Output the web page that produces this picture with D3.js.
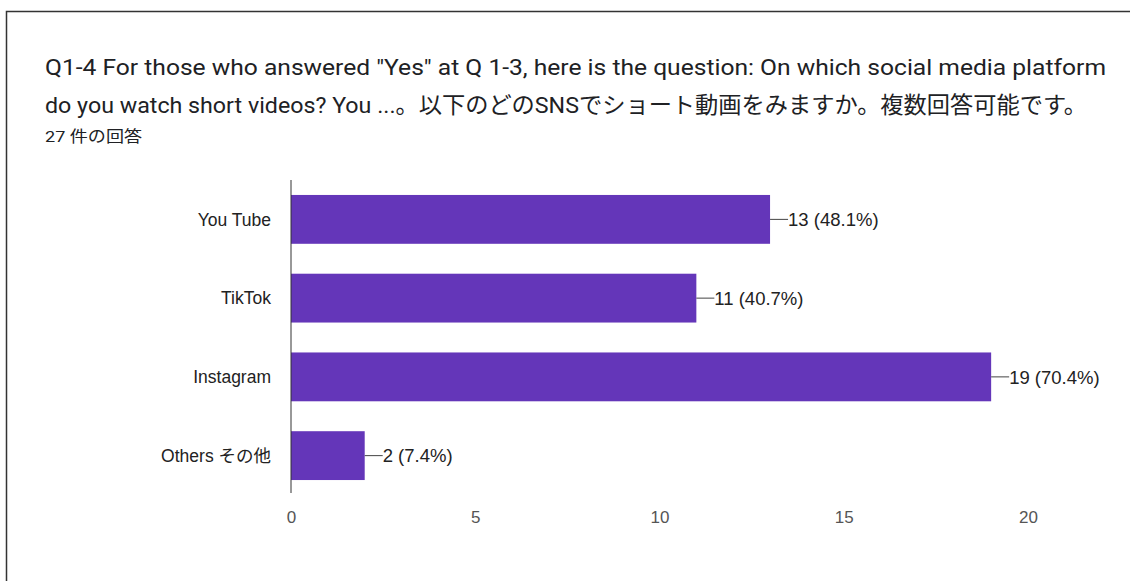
<!DOCTYPE html>
<html lang="ja">
<head>
<meta charset="UTF-8">
<title>Q1-4 short videos</title>
<style>
  html, body { margin: 0; padding: 0; background: #fff; }
  body { width: 1130px; height: 581px; overflow: hidden; }
  .title { font-family: Roboto, "Noto Sans CJK JP", sans-serif; }
  .chart text { font-family: "Liberation Sans", Arial, "Noto Sans CJK JP", sans-serif; }
</style>
</head>
<body>
<svg id="svg" width="1130" height="581"></svg>
<script src="https://d3js.org/d3.v7.min.js"></script>
<script>
const titleLines = [
  'Q1-4 For those who answered "Yes" at Q 1-3, here is the question: On which social media platform',
  'do you watch short videos?  You ...。以下のどのSNSでショート動画をみますか。複数回答可能です。'
];
const titleWidths = [1061, 1042];
const subtitle = '27 件の回答';
const categories = ['You Tube', 'TikTok', 'Instagram', 'Others その他'];
const counts = [13, 11, 19, 2];
const percents = ['48.1%', '40.7%', '70.4%', '7.4%'];
const xTicks = [0, 5, 10, 15, 20];

const data = categories.map((c, i) => ({ name: c, value: counts[i], pct: percents[i] }));

const svg = d3.select('#svg');

// card frame (only top and left edge show)
svg.append('path')
  .attr('d', 'M6.5,581 V11.5 H1130')
  .attr('fill', 'none')
  .attr('stroke', '#333')
  .attr('stroke-width', 1.5);

// title
svg.append('g')
  .attr('class', 'title')
  .selectAll('text')
  .data(titleLines)
  .join('text')
  .attr('x', 45)
  .attr('y', (d, i) => 75 + i * 38)
  .attr('font-size', 22.5)
  .attr('textLength', (d, i) => titleWidths[i])
  .attr('lengthAdjust', 'spacingAndGlyphs')
  .attr('fill', '#202124')
  .text(d => d);

svg.append('text')
  .attr('class', 'title')
  .attr('x', 45)
  .attr('y', 142)
  .attr('font-size', 15.5)
  .attr('textLength', 97)
  .attr('lengthAdjust', 'spacingAndGlyphs')
  .attr('fill', '#202124')
  .text(subtitle);

const chart = svg.append('g').attr('class', 'chart');

// scales
const x = d3.scaleLinear().domain([0, 20]).range([291, 1028]);
const y = d3.scaleBand().domain(categories).range([180, 495]).paddingInner(0.38).paddingOuter(0.19);

// bars
chart.append('g')
  .selectAll('rect')
  .data(data)
  .join('rect')
  .attr('x', x(0))
  .attr('y', d => y(d.name))
  .attr('width', d => x(d.value) - x(0))
  .attr('height', y.bandwidth())
  .attr('fill', '#6436b9');

// vertical baseline
chart.append('line')
  .attr('x1', x(0)).attr('x2', x(0))
  .attr('y1', 180).attr('y2', 493)
  .attr('stroke', '#333')
  .attr('stroke-width', 1);

// category labels
chart.append('g')
  .selectAll('text')
  .data(data)
  .join('text')
  .attr('x', 271)
  .attr('y', d => y(d.name) + y.bandwidth() / 2)
  .attr('dy', '0.36em')
  .attr('text-anchor', 'end')
  .attr('font-size', 17.5)
  .attr('fill', '#222')
  .text(d => d.name);

// value labels with leader lines
const lab = chart.append('g').selectAll('g').data(data).join('g');
lab.append('line')
  .attr('x1', d => x(d.value))
  .attr('x2', d => x(d.value) + 18)
  .attr('y1', d => y(d.name) + y.bandwidth() / 2)
  .attr('y2', d => y(d.name) + y.bandwidth() / 2)
  .attr('stroke', '#444')
  .attr('stroke-width', 1);
lab.append('text')
  .attr('x', d => x(d.value) + 18)
  .attr('y', d => y(d.name) + y.bandwidth() / 2)
  .attr('dy', '0.36em')
  .attr('font-size', 18.5)
  .attr('fill', '#222')
  .text(d => `${d.value} (${d.pct})`);

// x axis tick labels
const xAxis = d3.axisBottom(x).tickValues(xTicks).tickSize(0).tickPadding(0);
const gx = chart.append('g')
  .attr('transform', 'translate(0, 511)')
  .call(xAxis);
gx.select('.domain').remove();
gx.selectAll('text')
  .attr('font-size', 17)
  .attr('font-family', '"Liberation Sans", Arial, sans-serif')
  .attr('fill', '#555');
</script>
</body>
</html>
